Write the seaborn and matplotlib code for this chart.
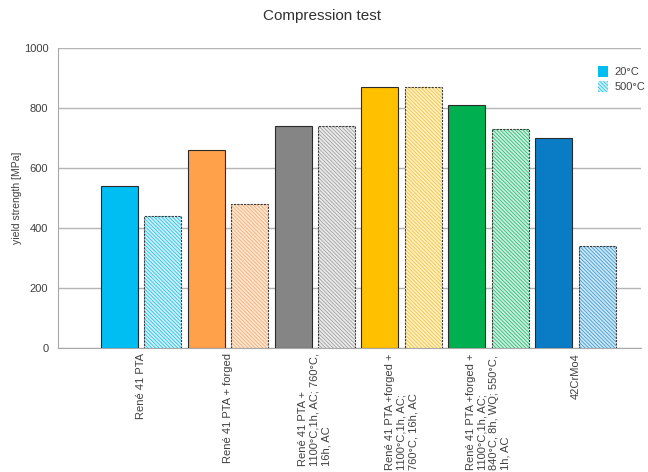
import matplotlib
matplotlib.use("Agg")
from matplotlib import pyplot as plt
from matplotlib.patches import Patch, Rectangle
import seaborn as sns
import pandas as pd

samples = [
    "René 41 PTA",
    "René 41 PTA + forged",
    "René 41 PTA +\n1100°C,1h, AC; 760°C,\n16h, AC",
    "René 41 PTA +forged +\n1100°C,1h, AC;\n760°C, 16h, AC",
    "René 41 PTA +forged +\n1100°C,1h, AC;\n840°C, 8h, WQ; 550°C,\n1h, AC",
    "42CrMo4",
]
temps = ["20°C", "500°C"]
strength_20 = [540, 660, 740, 870, 810, 700]
strength_500 = [440, 480, 740, 870, 730, 340]

solid_colors = ["#00BDF2", "#FFA04A", "#858585", "#FFC000", "#00B050", "#0A7CC6"]
light_colors = ["#CDF1FA", "#FDE6D0", "#EBEBEB", "#FFF1BE", "#CBF0DB", "#CDE7F6"]
hatch_colors = ["#2EC0E6", "#F2AE78", "#A0A0A0", "#EFC24E", "#2FBB7B", "#3E9BD2"]

HATCH = "\\" * 9

df = pd.DataFrame({
    "sample": samples * 2,
    "temp": [temps[0]] * len(samples) + [temps[1]] * len(samples),
    "strength": strength_20 + strength_500,
})

sns.set_style("white")
plt.rcParams["font.family"] = ["Liberation Sans", "DejaVu Sans"]
plt.rcParams["hatch.linewidth"] = 0.6

fig = plt.figure(figsize=(6.48, 4.72), dpi=100)
ax = fig.add_axes([0.0895, 0.263, 0.899, 0.635])

sns.barplot(data=df, x="sample", y="strength", hue="temp", order=samples,
            hue_order=temps, width=1.0, gap=0.15, ax=ax, legend=False, zorder=3)

# 20°C bars: solid colours
for patch, c in zip(ax.containers[0].patches, solid_colors):
    patch.set_facecolor(c)
    patch.set_edgecolor("#2b2b2b")
    patch.set_linewidth(0.8)

# 500°C bars: light fill + dense hatch, dark outline drawn on top
for patch, bg, hc in zip(ax.containers[1].patches, light_colors, hatch_colors):
    patch.set_facecolor(bg)
    patch.set_hatch(HATCH)
    patch.set_edgecolor(hc)
    patch.set_linewidth(0)
    ax.add_patch(Rectangle(patch.get_xy(), patch.get_width(), patch.get_height(),
                           facecolor="none", edgecolor="#3a3a3a", linewidth=0.8,
                           linestyle=(0, (2, 1)), zorder=4))

ax.set_ylim(0, 1000)
ax.set_yticks([0, 200, 400, 600, 800, 1000])
ax.set_xlim(-0.956, 5.75)
ax.yaxis.grid(True, color="#b4b4b4", linewidth=1.0)
ax.set_axisbelow(True)
for side in ["top", "right"]:
    ax.spines[side].set_visible(False)
ax.spines["left"].set_color("#a8a8a8")
ax.spines["bottom"].set_color("#a8a8a8")
ax.tick_params(axis="y", length=6, color="#a8a8a8", labelsize=8, labelcolor="#404040", pad=1)
ax.tick_params(axis="x", length=0, labelsize=8, labelcolor="#404040", pad=4)
ax.set_xticks(range(len(samples)))
ax.set_xticklabels(samples, rotation=90, ha="center", va="top", multialignment="left",
                   linespacing=1.2)

ax.set_xlabel("")
ax.set_ylabel("yield strength [MPa]", fontsize=7.5, color="#404040", labelpad=1)
fig.suptitle("Compression test", x=0.497, y=0.98, fontsize=11, color="#303030")

handles = [
    Patch(facecolor=solid_colors[0], edgecolor="none"),
    Patch(facecolor=light_colors[0], edgecolor=hatch_colors[0], hatch=HATCH, linewidth=0),
]
ax.legend(handles, temps, loc="upper right", bbox_to_anchor=(1.025, 0.975), frameon=False,
          fontsize=8, handlelength=0.9, handleheight=1.15, handletextpad=0.6,
          labelspacing=0.35, labelcolor="#404040")

fig.savefig("out.png", dpi=100)
